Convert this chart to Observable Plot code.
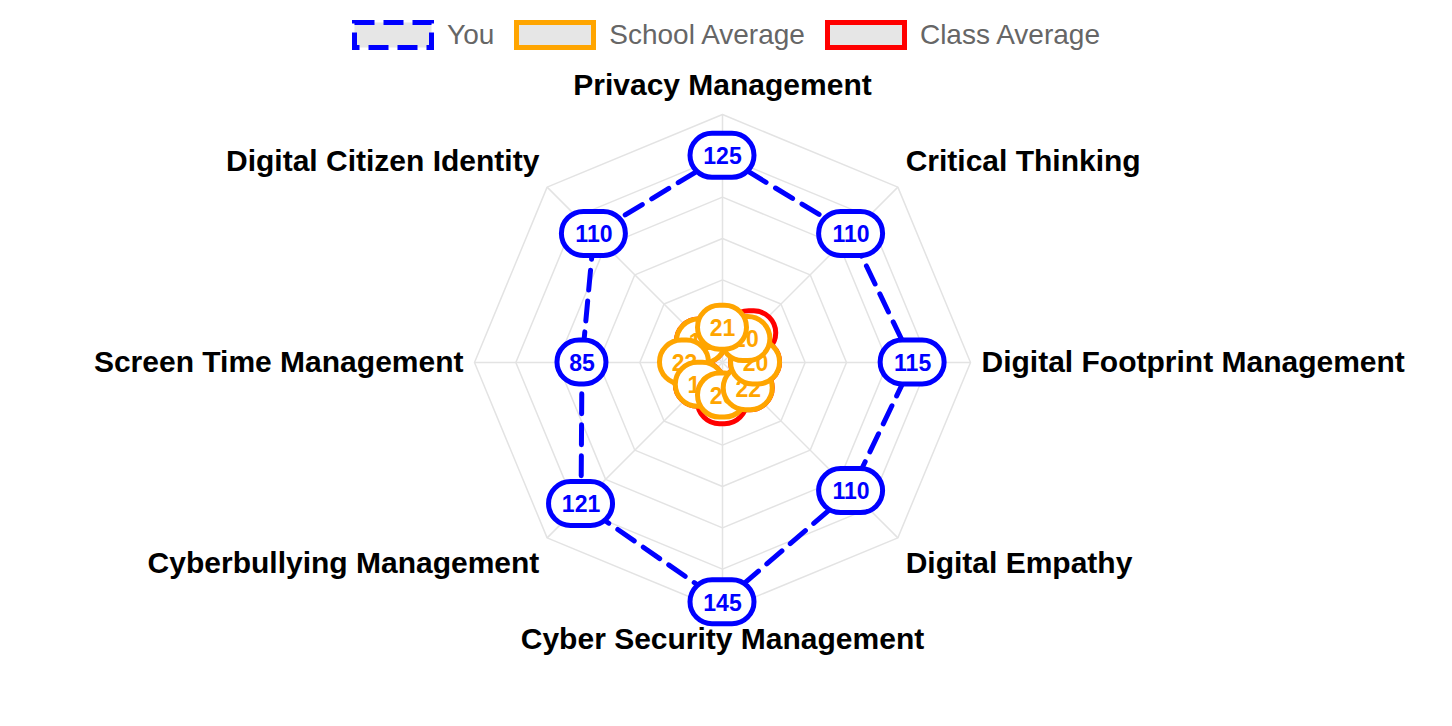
<!DOCTYPE html>
<html>
<head>
<meta charset="utf-8">
<script src="https://cdn.jsdelivr.net/npm/d3@7"></script>
<script src="https://cdn.jsdelivr.net/npm/@observablehq/plot@0.6"></script>
<style>
  body { margin: 0; background: #fff; font-family: "Liberation Sans", Arial, Helvetica, sans-serif; }
  #legend { height: 68px; display: flex; justify-content: center; align-items: center; padding-top: 2px; box-sizing: border-box; }
  .item { display: flex; align-items: center; margin: 0 10px; }
  .item svg { margin-right: 13px; }
  .item span { font-size: 28px; color: #666; }
</style>
</head>
<body>
<div id="legend"></div>
<div id="chart"></div>
<script>
// ---- data ----
const categories = [
  "Privacy Management", "Critical Thinking", "Digital Footprint Management", "Digital Empathy",
  "Cyber Security Management", "Cyberbullying Management", "Screen Time Management", "Digital Citizen Identity"
];
const youValues    = [125, 110, 115, 110, 145, 121, 85, 110];
const schoolValues = [21, 20, 20, 22, 20, 19, 23, 18];
const classValues  = [20, 25, 20, 22, 24, 19, 22, 18];
const seriesNames  = ["You", "School Average", "Class Average"];
const seriesColors = ["#0000ff", "#ffa500", "#ff0000"];
const gridTicks    = [25, 50, 75, 100, 125, 150];
const scaleMax     = 150;

// ---- legend ----
const legend = document.getElementById("legend");
seriesNames.forEach((name, k) => {
  const item = document.createElement("div");
  item.className = "item";
  const dash = k === 0 ? 'stroke-dasharray="20,9"' : "";
  item.innerHTML = `<svg width="82" height="30"><rect x="2.5" y="2.5" width="77" height="25" fill="#e6e6e6" stroke="${seriesColors[k]}" stroke-width="5" ${dash}/></svg><span>${name}</span>`;
  legend.appendChild(item);
});

// ---- polar helpers ----
const n = categories.length;
const ang = i => (i * 2 * Math.PI) / n;
const px = (v, i) => v * Math.sin(ang(i));
const py = (v, i) => v * Math.cos(ang(i));
const pxPerUnit = 248 / scaleMax;

const pts = vals => vals.map((v, i) => ({ i, v, label: String(v), x: px(v, i), y: py(v, i) }));
const youPts = pts(youValues);
const schoolPts = pts(schoolValues);
const classPts = pts(classValues);

const gridData = gridTicks.flatMap(t => categories.map((c, i) => ({ t, x: px(t, i), y: py(t, i) })));
const spokes = categories.map((c, i) => ({ x2: px(scaleMax, i), y2: py(scaleMax, i) }));

// label boxes (width depends on digit count)
function labelMarks(p, color) {
  const w = p.label.length >= 3 ? 64 : 49;
  const h = 44;
  return [
    Plot.rect([p], {
      x1: "x", x2: "x", y1: "y", y2: "y",
      insetLeft: -w / 2, insetRight: -w / 2, insetTop: -h / 2, insetBottom: -h / 2,
      rx: 22, fill: "white", stroke: color, strokeWidth: 5
    }),
    Plot.text([p], {
      x: "x", y: "y", text: "label", fill: color, fontSize: 23, fontWeight: "bold",
      fontFamily: "Liberation Sans, Arial, sans-serif", dy: 1
    })
  ];
}

// category labels
const labR = scaleMax + 11 / pxPerUnit;
const catMarks = categories.map((c, i) => {
  const s = Math.sin(ang(i)), co = Math.cos(ang(i));
  const anchor = s > 0.1 ? "start" : s < -0.1 ? "end" : "middle";
  const dy = co > 0.1 ? -18 : co < -0.1 ? 18 : 0;
  return Plot.text([{ c, x: px(labR, i), y: py(labR, i) }], {
    x: "x", y: "y", text: "c", textAnchor: anchor, lineAnchor: "middle", dy,
    fontSize: 30, fontWeight: "bold", fill: "#000",
    fontFamily: "Liberation Sans, Arial, sans-serif"
  });
});

const order = d3.range(n).reverse();

const chart = Plot.plot({
  width: 1452,
  height: 658,
  marginLeft: 474,
  marginRight: 482,
  marginTop: 46,
  marginBottom: 116,
  x: { domain: [-scaleMax, scaleMax], axis: null },
  y: { domain: [-scaleMax, scaleMax], axis: null },
  style: { background: "white" },
  marks: [
    Plot.line(gridData, { x: "x", y: "y", z: "t", curve: "linear-closed", stroke: "#e3e3e3", strokeWidth: 1.5 }),
    Plot.link(spokes, { x1: 0, y1: 0, x2: "x2", y2: "y2", stroke: "#e3e3e3", strokeWidth: 1.5 }),
    Plot.line(classPts, { x: "x", y: "y", curve: "linear-closed", stroke: seriesColors[2], strokeWidth: 4 }),
    Plot.line(schoolPts, { x: "x", y: "y", curve: "linear-closed", stroke: seriesColors[1], strokeWidth: 4 }),
    Plot.line(youPts, { x: "x", y: "y", curve: "linear-closed", stroke: seriesColors[0], strokeWidth: 5, strokeDasharray: "20,11" }),
    ...order.flatMap(i => labelMarks(classPts[i], seriesColors[2])),
    ...order.flatMap(i => labelMarks(schoolPts[i], seriesColors[1])),
    ...order.flatMap(i => labelMarks(youPts[i], seriesColors[0])),
    ...catMarks
  ]
});
document.getElementById("chart").appendChild(chart);
</script>
</body>
</html>
